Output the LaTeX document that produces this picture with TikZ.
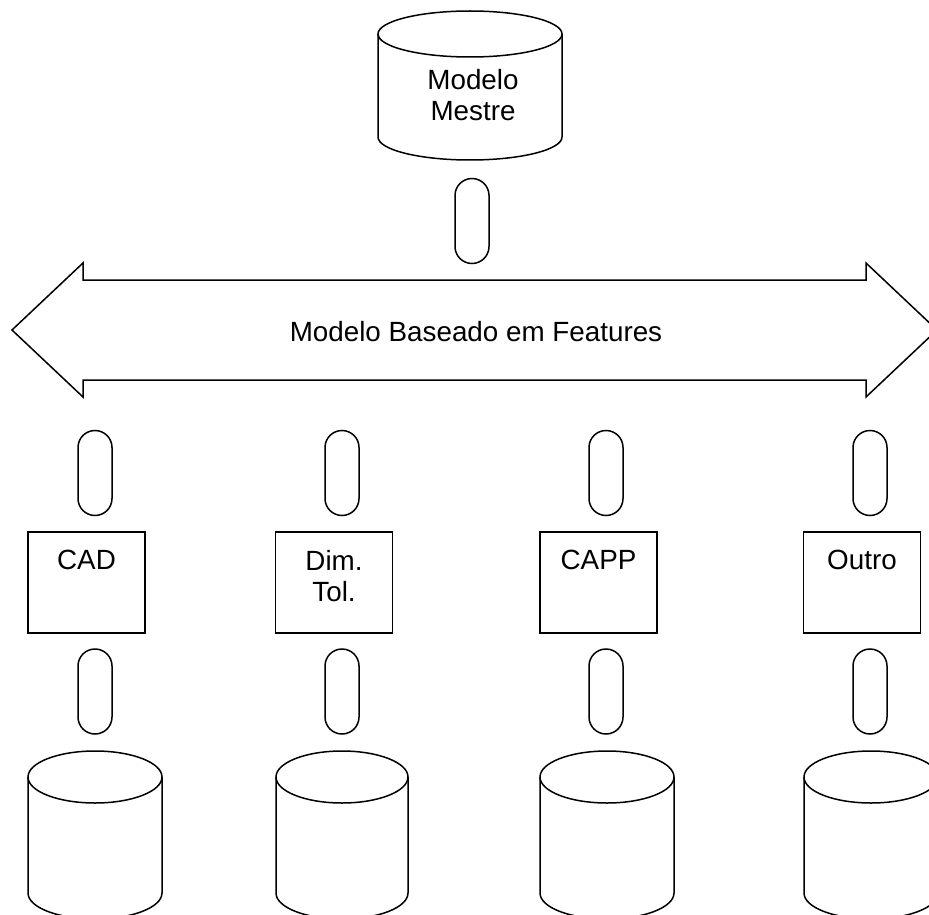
\documentclass[tikz,border=0pt]{standalone}
\usepackage{fontspec}
\setmainfont{Liberation Sans}

\tikzset{
  link/.style={draw, rounded corners=17pt, minimum width=34pt, minimum height=85pt, inner sep=0pt},
  tool/.style={draw, minimum width=117pt, minimum height=101pt, inner sep=0pt},
  toollabel/.style={anchor=north, inner sep=18pt, align=center},
}

\begin{document}
\begin{tikzpicture}[x=1pt, y=-1pt, line width=1.5pt,
  font=\fontsize{27.8}{31}\selectfont]
   \clip (0,0) rectangle (929,915);

   % modelo mestre
   \draw (378,34) -- (378,137) arc (180:0:92 and 23) -- (562,34);
   \draw (470,34) ellipse (92 and 23);
   \node[align=center] (mestre) at (473,95) {Modelo\\Mestre};
   \node[link] (lmestre) at (472,221) {};

   % seta dupla
   \draw (12,330) -- (83,263) -- (83,280) -- (866,280) -- (866,263)
   -- (937,330) -- (866,397) -- (866,380) -- (83,380) -- (83,397) -- cycle;
   \node (features) at (476,332) {Modelo Baseado em Features};

   % ferramentas
   \node[link] (lcad) at (95,473) {};
   \node[link] (ldim) at (342,473) {};
   \node[link] (lcapp) at (606,473) {};
   \node[link] (loutro) at (870,473) {};

   \node[tool, label={[toollabel]north:CAD}] (cad) at (86.5,582.5) {};
   \node[tool, label={[toollabel]north:Dim.\\Tol.}] (dim) at (334,582.5) {};
   \node[tool, label={[toollabel]north:CAPP}] (capp) at (598.5,582.5) {};
   \node[tool, label={[toollabel]north:Outro}] (outro) at (862,582.5) {};

   \node[link] (bcad) at (95,691.5) {};
   \node[link] (bdim) at (342,691.5) {};
   \node[link] (bcapp) at (606,691.5) {};
   \node[link] (boutro) at (870,691.5) {};

   % bases
   \draw (28,777) -- (28,893) arc (180:0:67 and 26) -- (162,777);
   \draw (95,777) ellipse (67 and 26);
   \draw (276,777) -- (276,893) arc (180:0:66 and 26) -- (408,777);
   \draw (342,777) ellipse (66 and 26);
   \draw (540,777) -- (540,893) arc (180:0:67 and 26) -- (674,777);
   \draw (607,777) ellipse (67 and 26);
   \draw (804,777) -- (804,893) arc (180:0:67 and 26) -- (938,777);
   \draw (871,777) ellipse (67 and 26);
 \end{tikzpicture}
\end{document}
